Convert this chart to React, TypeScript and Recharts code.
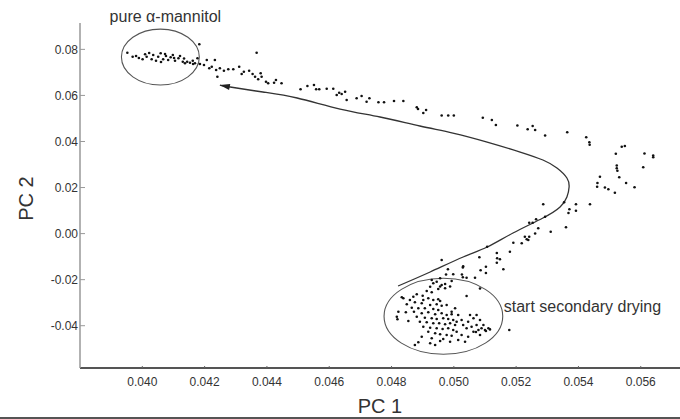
import React from 'react';
import { ComposedChart, XAxis, YAxis, Scatter, Line, ReferenceArea } from 'recharts';

type P = [number, number];

// PC1 / PC2 scores
const mannitolPts: P[] = [
  [0.03952, 0.07855], [0.03969, 0.07681], [0.0398, 0.07712], [0.04001, 0.07568], [0.04009, 0.07785],
  [0.04014, 0.07681], [0.0403, 0.07568], [0.04035, 0.07755], [0.04044, 0.07508], [0.04051, 0.07681],
  [0.04059, 0.07829], [0.04067, 0.07568], [0.04076, 0.07712], [0.04083, 0.07538], [0.04091, 0.07655],
  [0.04098, 0.07755], [0.04105, 0.07508], [0.04116, 0.07612], [0.04121, 0.07712], [0.0413, 0.07464],
  [0.04137, 0.07395], [0.04144, 0.07464], [0.04153, 0.07421], [0.04162, 0.07508], [0.04169, 0.07395],
  [0.04177, 0.07612], [0.04183, 0.0822], [0.04185, 0.07364], [0.04198, 0.07321], [0.04207, 0.07538],
  [0.04215, 0.07178], [0.04223, 0.07247], [0.04233, 0.07538], [0.04237, 0.07104], [0.04241, 0.06813],
  [0.04249, 0.07178], [0.04262, 0.07073], [0.03989, 0.07625], [0.04022, 0.07842], [0.0406, 0.07451],
  [0.04102, 0.07625], [0.04134, 0.07603], [0.04163, 0.07364], [0.04073, 0.07798],
];

const trailPts: P[] = [
  [0.04276, 0.07134], [0.04292, 0.07134], [0.04311, 0.07247], [0.04319, 0.0693], [0.04326, 0.0703],
  [0.04343, 0.07073], [0.04354, 0.0693], [0.04362, 0.06813], [0.04367, 0.07855], [0.04372, 0.067],
  [0.0438, 0.06961], [0.04383, 0.06813], [0.04397, 0.06596], [0.04404, 0.06526], [0.04423, 0.06552],
  [0.04429, 0.0667], [0.04447, 0.06526], [0.04508, 0.06266], [0.0453, 0.06409], [0.04551, 0.06452],
  [0.04558, 0.06266], [0.04568, 0.06266], [0.04592, 0.06292], [0.04613, 0.06292], [0.04624, 0.06018],
  [0.04632, 0.06118], [0.0464, 0.06062], [0.04651, 0.06161], [0.04656, 0.05801], [0.04688, 0.05875],
  [0.04704, 0.05975], [0.0472, 0.05727], [0.04729, 0.05875], [0.04758, 0.05701], [0.04776, 0.05701],
  [0.04808, 0.05758], [0.04838, 0.05758], [0.04881, 0.05484], [0.04885, 0.0541], [0.04902, 0.05237],
  [0.04911, 0.05367],
];

const turnPts: P[] = [
  [0.04961, 0.05128], [0.04982, 0.05128], [0.05, 0.05128], [0.05093, 0.05033], [0.05122, 0.04933],
  [0.05135, 0.04716], [0.05204, 0.04694], [0.05237, 0.04529], [0.05253, 0.04672], [0.05261, 0.04498],
  [0.05293, 0.0426], [0.05364, 0.04399], [0.05425, 0.04181], [0.05435, 0.03964], [0.05436, 0.03856],
  [0.05539, 0.03773], [0.05549, 0.03804], [0.0552, 0.03469], [0.05612, 0.03478], [0.0564, 0.03391],
  [0.0564, 0.03313], [0.05523, 0.02957], [0.05523, 0.02835], [0.05525, 0.02731], [0.05608, 0.02879],
  [0.05469, 0.02471], [0.05531, 0.02445], [0.05553, 0.02197], [0.05461, 0.02197], [0.0546, 0.02036],
  [0.05485, 0.02002], [0.05496, 0.01924], [0.05517, 0.01776], [0.0558, 0.0201],
];

const returnPts: P[] = [
  [0.05287, 0.01277], [0.05354, 0.01359], [0.05392, 0.01277], [0.05437, 0.01277], [0.05371, 0.01055],
  [0.05392, 0.00994], [0.05368, 0.00894], [0.05293, 0.00734], [0.05264, 0.00621], [0.05242, 0.00473],
  [0.05253, 0.00473], [0.0536, 0.00274], [0.05271, 0.0023], [0.05261, 0.00004], [0.05311, 0.00083],
  [0.05228, -0.00135], [0.05242, -0.00135], [0.05234, -0.00247], [0.05239, -0.00278], [0.05218, -0.00421],
  [0.05191, -0.00395], [0.05107, -0.00569], [0.0518, -0.00786], [0.05138, -0.00842], [0.05082, -0.01029],
  [0.05139, -0.01073], [0.05148, -0.01116], [0.05138, -0.01264], [0.04961, -0.01146], [0.0503, -0.0142],
  [0.05029, -0.01472], [0.05103, -0.01437], [0.05086, -0.01594], [0.05159, -0.0155], [0.04981, -0.0155],
  [0.05103, -0.01711], [0.05026, -0.01776], [0.04975, -0.01776], [0.05041, -0.01915], [0.05068, -0.01915],
  [0.05029, -0.01898], [0.04998, -0.01767],
];

const dryingPts: P[] = [
  [0.04929, -0.02015], [0.04945, -0.02089], [0.04993, -0.02058], [0.04972, -0.02188], [0.04956, -0.02297],
  [0.04988, -0.02297], [0.05084, -0.02384], [0.05041, -0.02709], [0.04956, -0.01941], [0.04934, -0.02158],
  [0.04961, -0.02232], [0.04924, -0.02306], [0.0495, -0.02406], [0.04972, -0.02375], [0.04913, -0.02492],
  [0.04929, -0.02549], [0.04881, -0.02636], [0.049, -0.02696], [0.0487, -0.0274], [0.04838, -0.02809],
  [0.04859, -0.02883], [0.04918, -0.02809], [0.04934, -0.02883], [0.04956, -0.02927], [0.04875, -0.02983],
  [0.04897, -0.03026], [0.04849, -0.0307], [0.04924, -0.031], [0.04945, -0.0307], [0.04961, -0.03131],
  [0.04977, -0.031], [0.04865, -0.03218], [0.04886, -0.03244], [0.04907, -0.03244], [0.04934, -0.03274],
  [0.0495, -0.03317], [0.04822, -0.03391], [0.04846, -0.03417], [0.04872, -0.03391], [0.04897, -0.03461],
  [0.04918, -0.03417], [0.0494, -0.03504], [0.04961, -0.03461], [0.04977, -0.03535], [0.04993, -0.03504],
  [0.04817, -0.03608], [0.04881, -0.03608], [0.04907, -0.03652], [0.04929, -0.03678], [0.04945, -0.03708],
  [0.04966, -0.03678], [0.04982, -0.03708], [0.04998, -0.03752], [0.04854, -0.03795], [0.04891, -0.03825],
  [0.04913, -0.03851], [0.04934, -0.03895], [0.04953, -0.03895], [0.04972, -0.03938], [0.04988, -0.03895],
  [0.05004, -0.03969], [0.04902, -0.04042], [0.04924, -0.04086], [0.04945, -0.04112], [0.04964, -0.04142],
  [0.04982, -0.04112], [0.04998, -0.04186], [0.04918, -0.0426], [0.0494, -0.04329], [0.04956, -0.04373],
  [0.04977, -0.04403], [0.04993, -0.04433], [0.04897, -0.04477], [0.04929, -0.04546], [0.04966, -0.04577],
  [0.04886, -0.0472], [0.04924, -0.04763], [0.04956, -0.04663], [0.04988, -0.04694], [0.04875, -0.04837],
  [0.0494, -0.04837], [0.05178, -0.04186], [0.04993, -0.03391], [0.05004, -0.03244], [0.05014, -0.03535],
  [0.05009, -0.03825], [0.05025, -0.03752], [0.0503, -0.03969], [0.05046, -0.03825], [0.05041, -0.04112],
  [0.05057, -0.04042], [0.05063, -0.0426], [0.05073, -0.03969], [0.05079, -0.04186], [0.05089, -0.04112],
  [0.05095, -0.03969], [0.051, -0.04186], [0.05111, -0.04112], [0.05063, -0.03678], [0.05084, -0.03752],
  [0.05052, -0.03535], [0.05009, -0.0426], [0.05025, -0.04403], [0.05046, -0.04477], [0.05014, -0.0462],
  [0.05036, -0.04694], [0.05073, -0.03535], [0.05084, -0.04403], [0.04819, -0.03721], [0.04833, -0.02766],
  [0.04902, -0.02883], [0.0495, -0.02853], [0.05103, -0.04229], [0.05116, -0.0416], [0.05071, -0.04273],
];

// trajectory drawn through the scores, ending in an arrow
const curvePts: P[] = [
  [0.04821, -0.02275], [0.04924, -0.01667], [0.0503, -0.01016], [0.05107, -0.00582], [0.0519, 0.00026],
  [0.05286, 0.00677], [0.05341, 0.01155], [0.05363, 0.01589], [0.0537, 0.02023], [0.05363, 0.02414],
  [0.05331, 0.02848], [0.05286, 0.03196], [0.05213, 0.03543], [0.05107, 0.03977], [0.04997, 0.04368],
  [0.04891, 0.04672], [0.04763, 0.05063], [0.04635, 0.0541], [0.04497, 0.05888], [0.04387, 0.06148],
  [0.04282, 0.06366], [0.04249, 0.06452],
];

const xTicks = [0.04, 0.042, 0.044, 0.046, 0.048, 0.05, 0.052, 0.054, 0.056];
const yTicks = [-0.04, -0.02, 0, 0.02, 0.04, 0.06, 0.08];
const xDomain: [number, number] = [0.038, 0.05726];
const yDomain: [number, number] = [-0.05836, 0.09145];

const mannitolRegion = { x1: 0.03933, x2: 0.04183, y1: 0.0645, y2: 0.0888, label: 'pure α-mannitol' };
const dryingRegion = { x1: 0.04776, x2: 0.05157, y1: -0.0524, y2: -0.0194, label: 'start secondary drying' };

const toObj = (a: P[]) => a.map(([x, y]) => ({ x, y }));
const scatterData = toObj([...mannitolPts, ...trailPts, ...turnPts, ...returnPts, ...dryingPts]);
const curveData = toObj(curvePts);
const arrowData = curveData.slice(-1);

const FONT = '"Liberation Sans", Arial, Helvetica, sans-serif';
const TEXT = '#333';

const Dot = (props: any) => {
  const { cx, cy } = props;
  if (cx == null || cy == null) return <g />;
  return <circle cx={cx} cy={cy} r={1.3} fill="#111" />;
};

const ArrowHead = (props: any) => {
  const { cx, cy } = props;
  if (cx == null || cy == null) return <g />;
  const dx = -0.981, dy = -0.196;
  const len = 10, hw = 3;
  const bx = cx - dx * len, by = cy - dy * len;
  const px = -dy, py = dx;
  const pts = `${cx},${cy} ${bx + px * hw},${by + py * hw} ${bx - px * hw},${by - py * hw}`;
  return <polygon points={pts} fill="#222" />;
};

const makeEllipse = (label: string, where: 'top' | 'right') => (props: any) => {
  const { x, y, width, height } = props;
  const cx = x + width / 2;
  const cy = y + height / 2;
  return (
    <g>
      <ellipse cx={cx} cy={cy} rx={width / 2} ry={height / 2} fill="none" stroke="#555" strokeWidth={1.1} />
      {where === 'top' ? (
        <text x={cx + 5} y={y - 7} textAnchor="middle" fontSize={16} fill={TEXT} fontFamily={FONT}>
          {label}
        </text>
      ) : (
        <text x={x + width + 1} y={cy - 4} textAnchor="start" fontSize={16} fill={TEXT} fontFamily={FONT}>
          {label}
        </text>
      )}
    </g>
  );
};

const YLabel = (props: any) => {
  const vb = props.viewBox || { x: 0, y: 23, width: 80, height: 345 };
  const cx = vb.x + 33;
  const cy = vb.y + vb.height / 2 + 3;
  return (
    <text x={cx} y={cy} transform={`rotate(-90 ${cx} ${cy})`} textAnchor="middle" fontSize={20} fill={TEXT} fontFamily={FONT}>
      PC 2
    </text>
  );
};

export default function App() {
  return (
    <div style={{ position: 'absolute', left: 0, top: 0, width: 680, height: 419, background: '#fff', fontFamily: FONT }}>
      <ComposedChart width={680} height={419} margin={{ top: 23, right: 0, bottom: 0, left: 0 }}>
        <XAxis
          type="number"
          dataKey="x"
          domain={xDomain}
          ticks={xTicks}
          interval={0}
          allowDataOverflow
          height={51}
          tickSize={-2}
          tickMargin={11}
          tickFormatter={(v: number) => v.toFixed(3)}
          tick={{ fontSize: 12, fill: TEXT, fontFamily: FONT }}
          axisLine={{ stroke: '#555', strokeWidth: 2 }}
          tickLine={{ stroke: '#666' }}
          label={{ value: 'PC 1', position: 'insideBottom', offset: 6, fontSize: 20, fill: TEXT, fontFamily: FONT }}
        />
        <YAxis
          type="number"
          dataKey="y"
          domain={yDomain}
          ticks={yTicks}
          interval={0}
          allowDataOverflow
          width={80}
          tickSize={-5}
          tickMargin={7}
          tickFormatter={(v: number) => v.toFixed(2)}
          tick={{ fontSize: 12, fill: TEXT, fontFamily: FONT }}
          axisLine={{ stroke: '#999', strokeWidth: 1.5 }}
          tickLine={{ stroke: '#999' }}
          label={<YLabel />}
        />
        <ReferenceArea
          x1={mannitolRegion.x1}
          x2={mannitolRegion.x2}
          y1={mannitolRegion.y1}
          y2={mannitolRegion.y2}
          shape={makeEllipse(mannitolRegion.label, 'top')}
        />
        <ReferenceArea
          x1={dryingRegion.x1}
          x2={dryingRegion.x2}
          y1={dryingRegion.y1}
          y2={dryingRegion.y2}
          shape={makeEllipse(dryingRegion.label, 'right')}
        />
        <Line
          data={curveData}
          dataKey="y"
          type="natural"
          stroke="#333"
          strokeWidth={1.3}
          dot={false}
          activeDot={false}
          isAnimationActive={false}
        />
        <Scatter data={scatterData} shape={Dot} isAnimationActive={false} />
        <Scatter data={arrowData} shape={ArrowHead} isAnimationActive={false} />
      </ComposedChart>
      <div style={{ position: 'absolute', left: 0, top: 417, width: 680, height: 2, background: '#555' }} />
    </div>
  );
}
